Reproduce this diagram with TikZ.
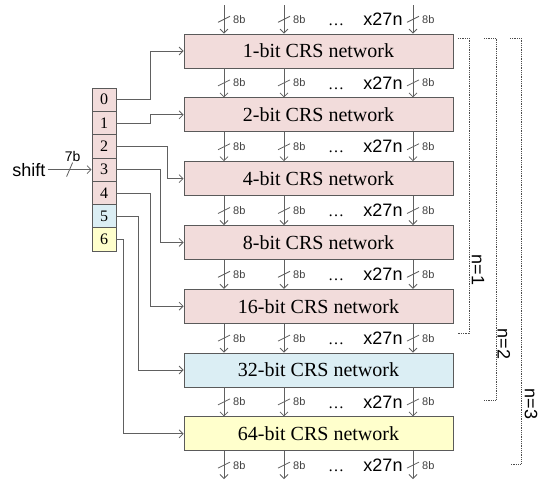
\documentclass[tikz,border=0pt]{standalone}
\usepackage{fontspec}
\setmainfont{Liberation Serif}
\setsansfont{Liberation Sans}
\usetikzlibrary{arrows.meta,positioning,calc}
\definecolor{crspink}{HTML}{F2DCDB}
\definecolor{crsblue}{HTML}{DBEEF4}
\definecolor{crsyellow}{HTML}{FFFFCC}
\definecolor{wiregray}{HTML}{606060}
\definecolor{edgegray}{HTML}{5A5A5A}
\tikzset{
  >={Straight Barb[length=4pt,width=8pt]},
  % stages
  crs/.style={draw=edgegray,line width=0.8pt,minimum width=269pt,
              minimum height=34pt,inner sep=0pt,font=\fontsize{20}{24}\selectfont},
  cell/.style={draw=edgegray,line width=0.8pt,minimum width=24pt,
               minimum height=23.3pt,inner sep=0pt,font=\fontsize{16}{18}\selectfont},
  % wires
  link/.style={->,draw=wiregray,line width=0.8pt},
  bus/.style={->,draw=wiregray,line width=0.8pt},
  tick/.style={draw=wiregray,line width=0.8pt},
  bitlbl/.style={font=\sffamily\fontsize{11}{12}\selectfont,text=black!75,
                 inner sep=0pt,anchor=west},
  replbl/.style={font=\sffamily\fontsize{18}{20}\selectfont,inner sep=0pt},
  brk/.style={draw=black!70,line width=0.8pt,densely dotted},
  nlbl/.style={font=\sffamily\fontsize{18}{20}\selectfont,rotate=-90,inner sep=0pt},
}
\newcommand\bitbus[2]{%
  \draw[bus] (#1) -- coordinate[pos=.5] (m) (#2);
  \draw[tick] ([shift={(-6,3)}]m) -- ([shift={(6,-3)}]m);
  \node[bitlbl] at ([xshift=9pt]m) {8b};}

\begin{document}
\begin{tikzpicture}[x=1pt,y=-1pt]
\useasboundingbox (0,0) rectangle (546,480);
% CRS stages
\foreach \w/\c [count=\i] in {1/crspink,2/crspink,4/crspink,8/crspink,
                              16/crspink,32/crsblue,64/crsyellow}
  \node[crs,fill=\c] (b\i) at (318.5,{51+63.8*(\i-1)}) {\w-bit CRS network};
% shift register
\foreach \c [count=\i from 0] in {crspink,crspink,crspink,crspink,crspink,
                                  crsblue,crsyellow}
  \node[cell,fill=\c] (r\i) at (104,{99.7+23.3*\i}) {\i};
% bus columns
\coordinate (in0) at (0,5);
\coordinate (out) at (0,479);
\coordinate (k1) at (224,0);
\coordinate (k2) at (284,0);
\coordinate (k3) at (413,0);
\coordinate (dots) at (336,0);
\coordinate (rep) at (383,0);
\foreach \u/\v in {in0/b1.north,b1.south/b2.north,b2.south/b3.north,
                   b3.south/b4.north,b4.south/b5.north,b5.south/b6.north,
                   b6.south/b7.north,b7.south/out}{
  \foreach \k in {1,2,3}{\bitbus{\u -| k\k}{\v -| k\k}}
  \path (\u -| rep) -- coordinate[pos=.5] (d) (\v -| rep);
  \node[replbl] (rp) at (d) {x27n};
  \node[font=\fontsize{16}{18}\selectfont,anchor=base,inner sep=0pt]
    at (rp.base -| dots) {\dots};
}
% shift amount into the stages
\foreach \i/\j/\dx in {0/1/34,1/2/34,2/3/51,3/4/44,4/5/34,5/6/22,6/7/7}
  \draw[link] (r\i.east) -- ++(\dx,0) |- (b\j.west);
\node[font=\sffamily\fontsize{18}{20}\selectfont,inner sep=2pt]
  (shift) [left=44pt of r3] {shift};
\draw[link] (shift.east) -- coordinate[pos=.5] (w) (r3.west);
\draw[tick] ([shift={(-3,7)}]w) -- ([shift={(3,-7)}]w)
  node[anchor=south,inner sep=1pt,font=\sffamily\fontsize{14}{16}\selectfont] {7b};
% n brackets
\draw[brk] (458,38) -- (469,38) -- (469,333) -- (458,333);
\draw[brk] (484,38) -- (496,38) -- (496,400) -- (484,400);
\draw[brk] (510,38) -- (521,38) -- (521,464) -- (510,464);
\node[nlbl] (n1) at (478,270) {n=1};
\node[nlbl] (n2) at (504,344) {n=2};
\node[nlbl] (n3) at (531,404) {n=3};
\end{tikzpicture}
\end{document}
